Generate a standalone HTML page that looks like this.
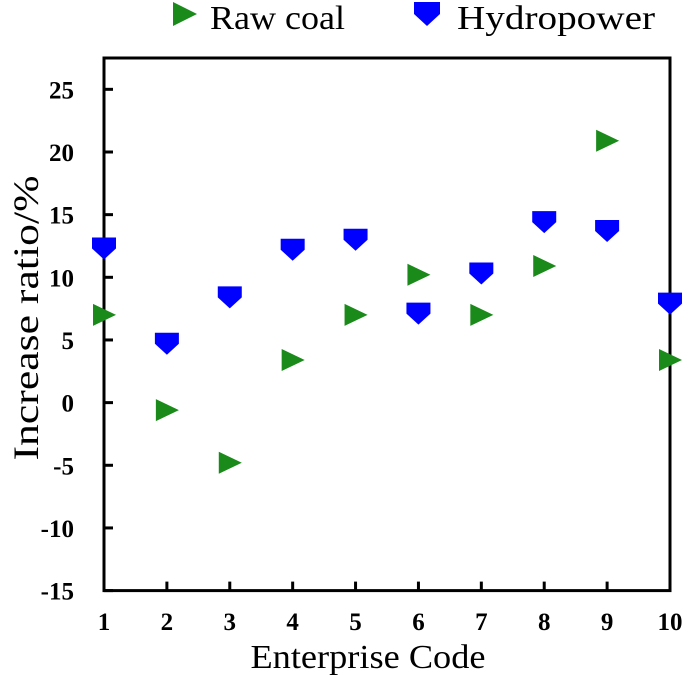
<!DOCTYPE html>
<html><head><meta charset="utf-8"><style>
body{margin:0;background:#fff;}
svg text{font-family:"Liberation Serif",serif;fill:#000;}
</style></head><body>
<svg id="chart" width="685" height="676" xmlns="http://www.w3.org/2000/svg">
<g id="legend">
 <g>
  <polygon points="173,2 197,14 173,26" fill="#1a8a1a"/>
  <text x="210" y="29" font-size="34" textLength="135" lengthAdjust="spacingAndGlyphs">Raw coal</text>
 </g>
 <g>
  <polygon points="414,2 440,2 440,14 427,26 414,14" fill="#0000ff"/>
  <text x="457" y="29" font-size="34" textLength="198" lengthAdjust="spacingAndGlyphs">Hydropower</text>
 </g>
</g>
<text transform="translate(38,318) rotate(-90)" text-anchor="middle" font-size="36" textLength="285" lengthAdjust="spacingAndGlyphs">Increase ratio/%</text>
<text x="368" y="668" text-anchor="middle" font-size="34" textLength="235" lengthAdjust="spacingAndGlyphs">Enterprise Code</text>
<g id="axes"></g>
<g id="marks"></g>
</svg>
<script>
const categories=[1,2,3,4,5,6,7,8,9,10];
const rawCoal=[7.0,-0.6,-4.8,3.4,7.0,10.2,7.0,10.9,20.9,3.4];
const hydropower=[12.3,4.7,8.4,12.2,13.0,7.1,10.3,14.4,13.7,7.9];
const yTicks=[25,20,15,10,5,0,-5,-10,-15];
const NS='http://www.w3.org/2000/svg';
const L=104,R=670,T=58,B=590.6,yMin=-15,yMax=27.5;
function xs(v){return L+(v-1)*(R-L)/9;}
function ys(v){return B-(v-yMin)*(B-T)/(yMax-yMin);}
function mk(tag,attrs,parent){const e=document.createElementNS(NS,tag);for(const k in attrs)e.setAttribute(k,attrs[k]);parent.appendChild(e);return e;}
const axes=document.getElementById('axes'),marks=document.getElementById('marks');
const frame=mk('rect',{x:L,y:T,width:R-L,height:B-T,fill:'none',stroke:'#000','stroke-width':3},axes);


yTicks.forEach(v=>{
 const y=ys(v);
 const t=mk('line',{x1:L,x2:L+9,y1:y,y2:y,stroke:'#000','stroke-width':3},axes);
 
 
 const tx=mk('text',{x:74,y:y+9,'text-anchor':'end','font-size':25,'font-weight':'bold'},axes);
 tx.textContent=v;
 
 
});
categories.forEach(c=>{
 const x=xs(c);
 if(c>1&&c<10){const t=mk('line',{x1:x,x2:x,y1:B,y2:B-9,stroke:'#000','stroke-width':3},axes);
 
 }
 const tx=mk('text',{x:x,y:630,'text-anchor':'middle','font-size':25,'font-weight':'bold'},axes);
 tx.textContent=c;
 
 
});
categories.forEach((c,i)=>{
 const x=xs(c),y=ys(rawCoal[i]);
 const p=mk('polygon',{points:`${x-11},${y-11} ${x+12},${y} ${x-11},${y+11}`,fill:'#1a8a1a'},marks);
 
 
});
categories.forEach((c,i)=>{
 const x=xs(c),y=ys(hydropower[i]);
 const p=mk('polygon',{points:`${x-12},${y-11} ${x+12},${y-11} ${x+12},${y} ${x},${y+11} ${x-12},${y}`,fill:'#0000ff'},marks);
 
 
});
</script>
</body></html>
